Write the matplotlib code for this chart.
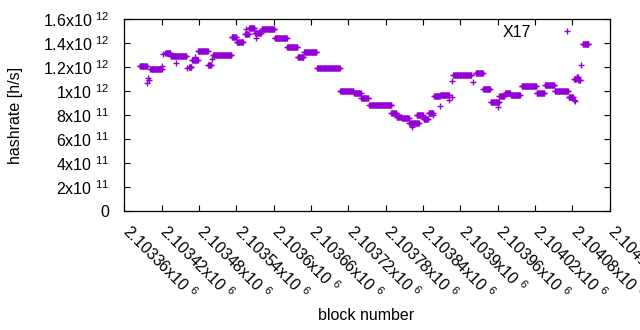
import matplotlib
matplotlib.use("Agg")
import matplotlib.pyplot as plt
from matplotlib.transforms import ScaledTranslation
import numpy as np

# runs of blocks with the same hashrate (first block, last block, rate in 1e12 h/s)
run_first = [2103385, 2103397, 2103399, 2103400, 2103402, 2103421, 2103423, 2103426,
             2103435, 2103444, 2103461, 2103464, 2103469, 2103473, 2103479, 2103495,
             2103501, 2103503, 2103533, 2103541, 2103554, 2103556, 2103561, 2103570,
             2103571, 2103581, 2103602, 2103622, 2103639, 2103649, 2103670, 2103707,
             2103729, 2103741, 2103754, 2103755, 2103789, 2103798, 2103806, 2103818,
             2103823, 2103830, 2103841, 2103849, 2103857, 2103858, 2103868, 2103868,
             2103882, 2103886, 2103887, 2103889, 2103921, 2103925, 2103937, 2103949,
             2103961, 2103963, 2103972, 2103981, 2103996, 2103999, 2104023, 2104036,
             2104052, 2104074, 2104082, 2104085, 2104083, 2104087, 2104090, 2104094,
             2104097]
run_last = [2103396, 2103397, 2103399, 2103400, 2103420, 2103421, 2103423, 2103434,
            2103460, 2103444, 2103461, 2103468, 2103478, 2103473, 2103494, 2103500,
            2103501, 2103532, 2103540, 2103551, 2103560, 2103556, 2103569, 2103580,
            2103571, 2103601, 2103621, 2103638, 2103648, 2103669, 2103706, 2103728,
            2103740, 2103752, 2103754, 2103789, 2103797, 2103805, 2103817, 2103833,
            2103823, 2103840, 2103848, 2103856, 2103857, 2103867, 2103868, 2103882,
            2103882, 2103886, 2103887, 2103918, 2103921, 2103936, 2103948, 2103962,
            2103961, 2103971, 2103980, 2103995, 2103996, 2104022, 2104035, 2104051,
            2104073, 2104081, 2104082, 2104085, 2104086, 2104089, 2104093, 2104094,
            2104106]
run_rate = [1.205, 1.07, 1.105, 1.09, 1.18, 1.21, 1.31, 1.318,
            1.289, 1.23, 1.194, 1.20, 1.258, 1.28, 1.33, 1.215,
            1.27, 1.30, 1.447, 1.408, 1.475, 1.517, 1.522, 1.48,
            1.44, 1.514, 1.439, 1.364, 1.28, 1.3225, 1.189, 1.0,
            0.98, 0.944, 0.883, 0.887, 0.814, 0.785, 0.772, 0.73,
            0.70, 0.80, 0.77, 0.82, 0.80, 0.958, 0.875, 0.967,
            0.925, 0.952, 1.083, 1.13, 1.078, 1.147, 1.014, 0.911,
            0.87, 0.956, 0.983, 0.97, 0.967, 1.04, 0.98, 1.046,
            1.004, 0.95, 0.925, 0.92, 1.10, 1.12, 1.09, 1.217,
            1.392]

x_ticks = np.arange(2103360, 2104141, 60)
y_ticks = [0, 2e11, 4e11, 6e11, 8e11, 1e12, 1.2e12, 1.4e12, 1.6e12]

blocks = []
rates = []
for a, b, r in zip(run_first, run_last, run_rate):
    n = np.arange(a, b + 1)
    blocks.extend(n)
    rates.extend([r * 1e12] * len(n))

plt.rcParams["font.family"] = ["Liberation Sans", "DejaVu Sans"]
plt.rcParams["mathtext.fontset"] = "custom"
plt.rcParams["mathtext.rm"] = "Liberation Sans"
plt.rcParams["mathtext.it"] = "Liberation Sans:italic"
plt.rcParams["mathtext.bf"] = "Liberation Sans:bold"
FS = 11.5

fig = plt.figure(figsize=(6.4, 3.3), dpi=100)
ax = fig.add_axes([124.2 / 640, 1 - 211 / 330, 485.4 / 640, 192 / 330])

ax.plot(blocks, rates, "+", ms=5, mew=1.0, color="#9400D3", label="X17")

ax.set_xlim(2103360, 2104140)
ax.set_ylim(0, 1.6e12)


def fmt_x(v):
    return f"{v / 1e6:g}x10 $^{{6}}$"


def fmt_y(v):
    if v == 0:
        return "0"
    e = int(np.floor(np.log10(v)))
    m = v / 10 ** e
    return f"{m:g}x10 $^{{{e}}}$"


ax.set_xticks(x_ticks)
ax.set_xticklabels([fmt_x(v) for v in x_ticks], rotation=-45, ha="left",
                   va="top", rotation_mode="anchor", fontsize=FS)
ax.set_yticks(y_ticks)
ax.set_yticklabels([fmt_y(v) for v in y_ticks], fontsize=FS)

ax.tick_params(direction="in", top=True, right=True, length=4, width=0.8)
ax.tick_params(axis="y", pad=10.5)
ax.tick_params(axis="x", pad=6)
shift = ScaledTranslation(0.08, -0.02, fig.dpi_scale_trans)
for lbl in ax.get_xticklabels():
    lbl.set_transform(lbl.get_transform() + shift)
for s in ax.spines.values():
    s.set_linewidth(0.9)

fig.text(15.5 / 640, 1 - 115 / 330, "hashrate [h/s]", rotation=90,
         ha="center", va="center", fontsize=FS)
fig.text(366 / 640, 1 - 316 / 330, "block number", ha="center",
         va="center", fontsize=FS)

ax.legend(loc="center right", bbox_to_anchor=(0.9448, 0.932), frameon=False,
          markerfirst=False, handlelength=2, handletextpad=1.25,
          borderpad=0, borderaxespad=0, fontsize=FS)

fig.savefig("out.png", dpi=100)
